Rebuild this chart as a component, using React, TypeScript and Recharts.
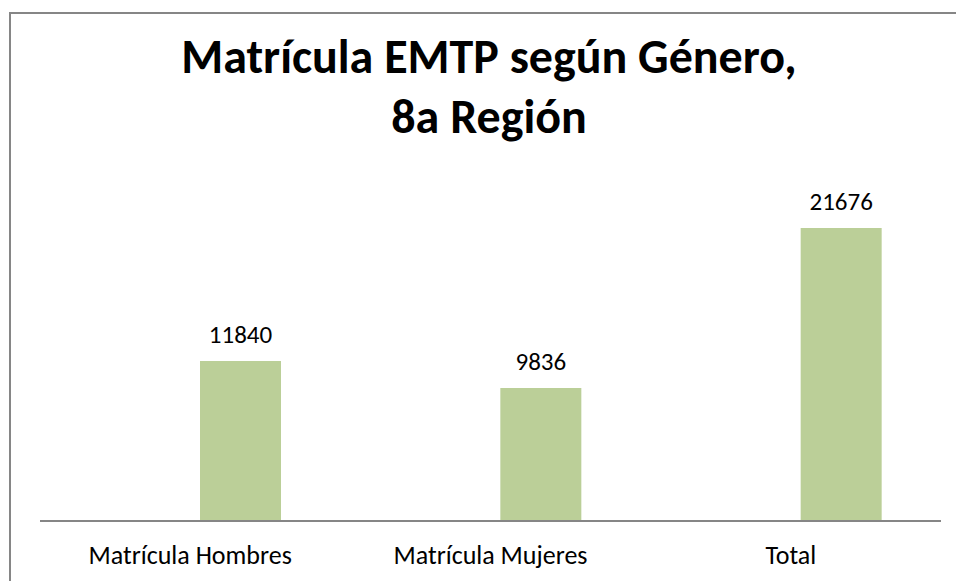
import { BarChart, Bar, XAxis, YAxis, LabelList } from "recharts";

const categories = ["Matrícula Hombres", "Matrícula Mujeres", "Total"];
const matricula = [11840, 9836, 21676];
// first series of the original cluster is empty, which shifts the bars right
const emptySeries = [null, null, null];
const yDomain = [0, 25000];

const data = categories.map((name, i) => ({
  name,
  empty: emptySeries[i],
  value: matricula[i],
}));

const FONT = "Carlito, Calibri, Lato, sans-serif";
const AXIS_GRAY = "#868686";

export default function App() {
  return (
    <div
      style={{
        position: "absolute",
        left: 0,
        top: 0,
        width: 956,
        height: 581,
        overflow: "hidden",
        background: "#fff",
        fontFamily: FONT,
      }}
    >
      <div
        style={{
          position: "absolute",
          left: 9,
          top: 12,
          width: 1200,
          height: 1200,
          border: `2px solid ${AXIS_GRAY}`,
          boxSizing: "border-box",
        }}
      />
      <div
        style={{
          position: "absolute",
          left: 139,
          width: 700,
          top: 27,
          textAlign: "center",
          fontWeight: 700,
          fontSize: 48,
          lineHeight: "60px",
          color: "#000",
        }}
      >
        Matrícula EMTP según Género,
        <br />
        8a Región
      </div>
      <div style={{ position: "absolute", left: 0, top: 0 }}>
        <BarChart
          width={956}
          height={581}
          data={data}
          margin={{ top: 183, right: 15, bottom: 0, left: 40 }}
          barSize={81}
          barGap={19}
        >
          <XAxis
            dataKey="name"
            height={60}
            tickLine={false}
            axisLine={{ stroke: AXIS_GRAY, strokeWidth: 2 }}
            tick={{ fontSize: 26, fill: "#000", fontFamily: FONT }}
            tickMargin={19}
            interval={0}
          />
          <YAxis hide domain={yDomain} />
          <Bar dataKey="empty" fill="#BBCF98" isAnimationActive={false} />
          <Bar dataKey="value" fill="#BBCF98" isAnimationActive={false}>
            <LabelList
              dataKey="value"
              position="top"
              offset={18}
              style={{ fontSize: 25, fill: "#000", fontFamily: FONT }}
            />
          </Bar>
        </BarChart>
      </div>
    </div>
  );
}
